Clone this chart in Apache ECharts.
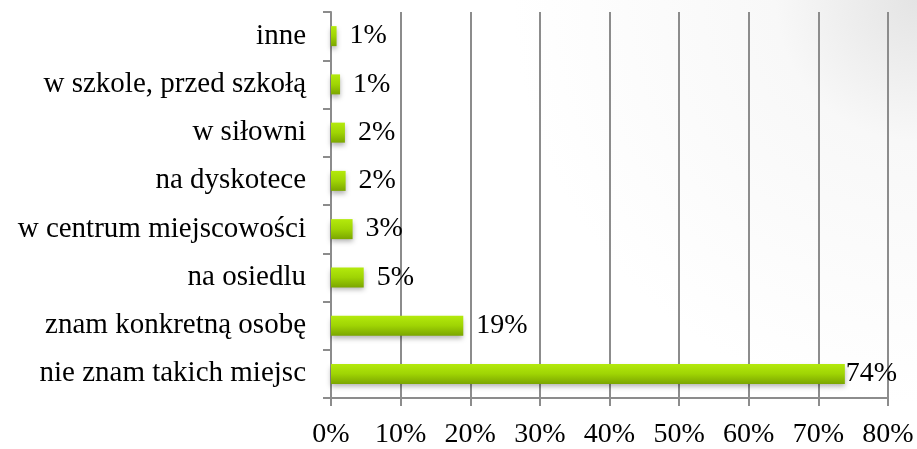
<!DOCTYPE html>
<html>
<head>
<meta charset="utf-8">
<script src="https://cdn.jsdelivr.net/npm/echarts@6/dist/echarts.min.js"></script>
<style>
  html, body { margin: 0; padding: 0; background: #fff; }
  #chart { width: 917px; height: 449px; }
</style>
</head>
<body>
<div id="chart"></div>
<script>
// categories from bottom to top
var places = ['nie znam takich miejsc', 'znam konkretną osobę', 'na osiedlu',
  'w centrum miejscowości', 'na dyskotece', 'w siłowni', 'w szkole, przed szkołą', 'inne'];
var shares = [73.8, 19, 4.7, 3.1, 2.1, 2.0, 1.3, 0.8];
var xTicks = [0, 10, 20, 30, 40, 50, 60, 70, 80];

var myChart = echarts.init(document.getElementById('chart'));
var serif = '"Liberation Serif", "DejaVu Serif", serif';

var barData = [];
for (var i = 0; i < shares.length; i++) {
  var item = {value: shares[i]};
  // largest bar: label sits right at the bar end
  if (shares[i] > 50) item.label = {distance: 1};
  barData.push(item);
}

option = {
  backgroundColor: new echarts.graphic.RadialGradient(1, 0, 0.9, [
    {offset: 0, color: '#e4e4e4'},
    {offset: 0.35, color: '#f8f8f8'},
    {offset: 1, color: '#ffffff'}
  ]),
  grid: {left: 331, right: 29, top: 12, bottom: 47},
  xAxis: {
    type: 'value',
    min: xTicks[0],
    max: xTicks[xTicks.length - 1],
    interval: 10,
    axisLine: {show: true, lineStyle: {color: '#8c8c8c', width: 2}},
    axisTick: {show: true, length: 8, lineStyle: {color: '#8c8c8c', width: 2}},
    splitLine: {show: true, lineStyle: {color: '#8c8c8c', width: 2}},
    axisLabel: {
      color: '#000', fontFamily: serif, fontSize: 28, margin: 23,
      formatter: function (v) { return v + '%'; }
    }
  },
  yAxis: {
    type: 'category',
    data: places,
    axisLine: {show: true, lineStyle: {color: '#8c8c8c', width: 2}},
    axisTick: {show: true, length: 8, lineStyle: {color: '#8c8c8c', width: 2}},
    axisLabel: {color: '#000', fontFamily: serif, fontSize: 29, margin: 25}
  },
  series: [{
    type: 'bar',
    data: barData,
    barWidth: 20,
    itemStyle: {
      color: new echarts.graphic.LinearGradient(0, 0, 0, 1, [
        {offset: 0, color: '#b4ea0c'},
        {offset: 0.5, color: '#9fd404'},
        {offset: 1, color: '#7ba600'}
      ]),
      shadowColor: 'rgba(0,0,0,0.3)',
      shadowBlur: 5,
      shadowOffsetY: 3
    },
    label: {
      show: true,
      position: 'right',
      distance: 13,
      color: '#000',
      fontFamily: serif,
      fontSize: 28,
      formatter: function (p) { return Math.round(p.value) + '%'; }
    }
  }]
};
myChart.setOption(option);
</script>
</body>
</html>
